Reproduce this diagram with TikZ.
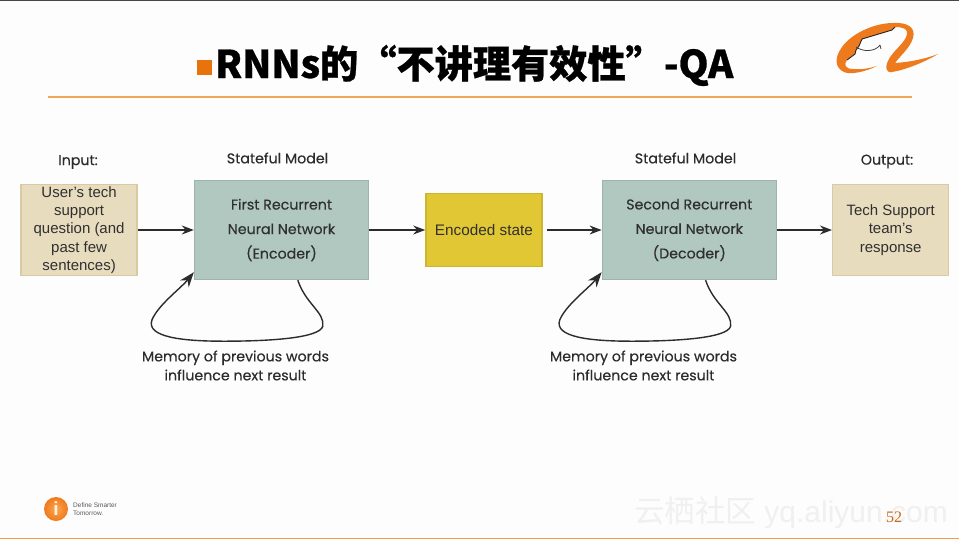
\documentclass[tikz,border=0pt]{standalone}
\usepackage{fontspec}
\setmainfont{Liberation Sans}
\newfontfamily\cjk{Noto Sans CJK SC}
\newfontfamily\titlefont{Noto Sans CJK SC}[BoldFeatures={FakeBold=0.7}]
\newfontfamily\labelfont{Poppins}[FakeBold=0.3]
\usepackage{tikz}
\usetikzlibrary{calc,positioning,arrows.meta}
\definecolor{PageTint}{HTML}{FDFDFD}
\definecolor{AliOrange}{HTML}{EE7A1E}
\definecolor{RuleOrange}{HTML}{F2A65A}
\definecolor{BulletOrange}{HTML}{E8730C}
\definecolor{SandFill}{HTML}{E8DCBE}
\definecolor{SandLine}{HTML}{D8CAA2}
\definecolor{SageFill}{HTML}{B0C8C0}
\definecolor{SageLine}{HTML}{9CB4AC}
\definecolor{GoldFill}{HTML}{E2C735}
\definecolor{GoldLine}{HTML}{CDB52F}
\definecolor{BoxText}{HTML}{303030}
\definecolor{LabelText}{HTML}{2C2C2C}
\tikzset{
  sandbox/.style={draw=SandLine,fill=SandFill,line width=1.4pt,minimum width=116pt,minimum height=91pt,inner sep=0pt,align=center,text=BoxText,font=\fontsize{15}{18.3}\selectfont,execute at begin node={\rule{0pt}{24pt}}},
  sagebox/.style={draw=SageLine,fill=SageFill,line width=1.4pt,minimum width=174pt,minimum height=99pt,inner sep=0pt,align=center,text=BoxText,font=\labelfont\fontsize{14.2}{24.5}\selectfont,execute at begin node={\rule{0pt}{19pt}}},
  capt/.style={inner sep=0pt,align=center,text=LabelText,font=\labelfont\fontsize{14.2}{19}\selectfont},
  flow/.style={-{Stealth[length=12pt,width=9pt]},draw=LabelText,line width=1.3pt},
  feedback/.style={-{Stealth[length=15pt,width=11pt]},draw=LabelText,line width=1.4pt}
}
\begin{document}
\begin{tikzpicture}[x=1pt,y=-1pt,node distance=56pt]
\useasboundingbox (0,0) rectangle (959,539);
\fill[PageTint] (0,0) rectangle (959,539);
\fill[black!72] (0,0) rectangle (959,1);
\fill[RuleOrange!70!AliOrange] (0,538) rectangle (959,539);
% title and rule
\node[fill=BulletOrange,minimum size=15pt,inner sep=0pt] (bullet) at (204,67.5) {};
\node[anchor=base west,inner sep=0pt,font=\titlefont\bfseries\fontsize{38.2}{38.2}\selectfont] (title) at (215,78) {RNNs的“不讲理有效性”-QA};
\coordinate (ruleL) at (48,97);
\coordinate (ruleR) at (912,97);
\draw[RuleOrange,line width=1.2pt] (ruleL)--(ruleR);
% logo
\fill[AliOrange] (877,66) .. controls (865,72) and (850,75) .. (844,72)
  .. controls (835,68) and (834,58) .. (842,47)
  .. controls (852,33) and (875,23) .. (893,23)
  .. controls (908,22) and (916,28) .. (913,38)
  .. controls (910,48) and (900,56) .. (895,63)
  .. controls (910,62) and (925,59) .. (938,54)
  .. controls (925,62) and (905,70) .. (892,72)
  .. controls (885,73) and (885,66) .. (889,59)
  .. controls (893,51) and (906,42) .. (907,34)
  .. controls (908,29) and (903,27) .. (895,27)
  -- (892,30) -- (862,39) -- (859,46) -- (856,50) -- (855,54) -- (847,60)
  .. controls (843,65) and (846,69) .. (853,69)
  .. controls (862,70) and (870,68) .. (877,66) -- cycle;
\draw[black!85,line width=.9pt] (895,27) -- (892,30) -- (862,39) -- (859,46) -- (856,50) -- (855,54) -- (847,60);
\draw[black!75,line width=.8pt] (856,47) .. controls (863,52) and (875,52) .. (880,45) (880,45) -- (881,49);
% diagram boxes
\node[sagebox] (first) at (281.5,230) {First Recurrent\\Neural Network\\(Encoder)};
\node[sandbox,left=56pt of first] (input) {User's tech\\support\\question (and\\past few\\sentences)};
\node[draw=GoldLine,fill=GoldFill,line width=1.4pt,minimum width=116pt,minimum height=73pt,inner sep=0pt,text=BoxText,font=\fontsize{15.3}{18}\selectfont,right=56pt of first] (encoded) {Encoded state};
\node[sagebox,right=59pt of encoded] (second) {Second Recurrent\\Neural Network\\(Decoder)};
\node[sandbox,right=55pt of second] (output) {Tech Support\\team's\\response};
% captions
\node[capt] (inputcap) at (78,162) {Input:};
\node[capt] (firstcap) at (277.5,158) {Stateful Model};
\node[capt] (secondcap) at (685.5,158) {Stateful Model};
\node[capt] (outputcap) at (887,161.5) {Output:};
\node[capt] (firstmem) at (235.5,365.5) {Memory of previous words\\influence next result};
\node[capt] (secondmem) at (643.5,365.5) {Memory of previous words\\influence next result};
% connectors
\draw[flow] (input)--(first);
\draw[flow] (first)--(encoded);
\draw[flow,shorten <=4pt] (encoded)--(second);
\draw[flow] (second)--(output);
\draw[feedback] ($(first.south west)+(104,0)$) .. controls ($(first.south west)+(112,24)$) and ($(first.south west)+(131,32)$) .. ($(first.south west)+(129,46)$)
  .. controls ($(first.south west)+(126,58)$) and ($(first.south west)+(75,61)$) .. ($(first.south west)+(30,61)$)
  .. controls ($(first.south west)+(-20,61)$) and ($(first.south west)+(-52,55)$) .. ($(first.south west)+(-40,36)$)
  .. controls ($(first.south west)+(-32,22)$) and ($(first.south west)+(-12,7)$) .. ($(first.south west)+(0,-8)$);
\draw[feedback] ($(second.south west)+(104,0)$) .. controls ($(second.south west)+(112,24)$) and ($(second.south west)+(131,32)$) .. ($(second.south west)+(129,46)$)
  .. controls ($(second.south west)+(126,58)$) and ($(second.south west)+(75,61)$) .. ($(second.south west)+(30,61)$)
  .. controls ($(second.south west)+(-20,61)$) and ($(second.south west)+(-52,55)$) .. ($(second.south west)+(-40,36)$)
  .. controls ($(second.south west)+(-32,22)$) and ($(second.south west)+(-12,7)$) .. ($(second.south west)+(0,-8)$);
% footer
\shade[inner color=orange!70!white,outer color=AliOrange] (56,509) circle (12);
\node[inner sep=0pt,text=white!90!orange,font=\bfseries\fontsize{19}{19}\selectfont] (infoi) at (56,508.5) {i};
\node[anchor=west,inner sep=0pt,align=left,text=black!65,font=\fontsize{6.5}{8.5}\selectfont] (slogan) at (73,509) {Define Smarter\\Tomorrow.};
\node[anchor=base east,inner sep=0pt,text=black!6,font=\fontsize{30}{30}\selectfont] (mark) at (948,522) {{\cjk\fontsize{30.5}{30.5}\selectfont 云栖社区}\ \rmfamily yq.aliyun.com};
\node[inner sep=0pt,text=AliOrange!85!black,font=\fontsize{16}{16}\selectfont] (pageno) at (894,517) {\fontspec{Liberation Serif}52};
\end{tikzpicture}
\end{document}
